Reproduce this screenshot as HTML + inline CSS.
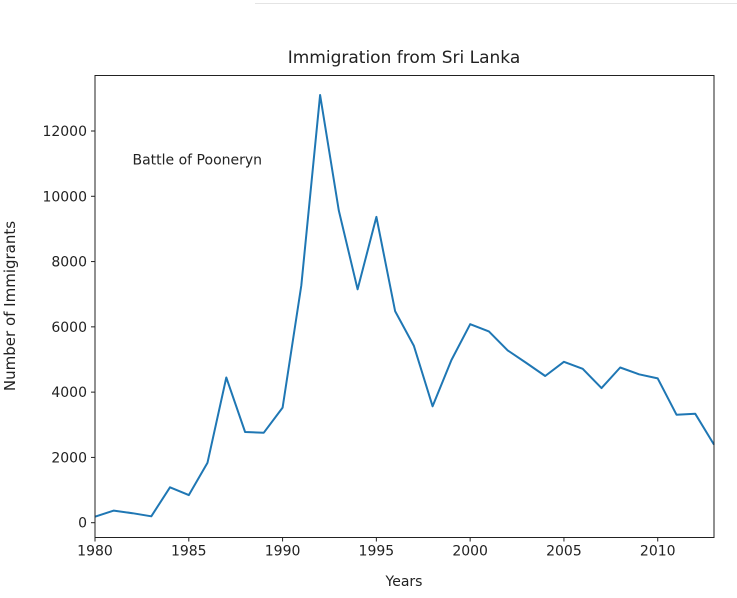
<!DOCTYPE html>
<html><head><meta charset="utf-8"><style>
body{margin:0;background:#fff;width:737px;height:593px;overflow:hidden}
svg text{font-family:"DejaVu Sans","Liberation Sans",sans-serif;fill:#222}
</style></head><body>
<svg width="737" height="593">
<line x1="255" y1="3.5" x2="737" y2="3.5" stroke="#e4e4e4"/>
<g id="g"></g>
</svg>
<script>
const years=[1980,1981,1982,1983,1984,1985,1986,1987,1988,1989,1990,1991,1992,1993,1994,1995,1996,1997,1998,1999,2000,2001,2002,2003,2004,2005,2006,2007,2008,2009,2010,2011,2012,2013];
const immigrants=[185,371,290,197,1086,845,1838,4447,2779,2758,3525,7266,13102,9563,7150,9368,6484,5415,3566,4982,6081,5861,5279,4892,4495,4930,4714,4123,4756,4547,4422,3309,3338,2394];
const xTicks=[1980,1985,1990,1995,2000,2005,2010];
const yTicks=[0,2000,4000,6000,8000,10000,12000];
const L=95,R=714,T=75.5,B=537.5;
const X=v=>L+(v-1980)/(2013-1980)*(R-L);
const Y=v=>522.7-v*(391.7/12000);
const g=document.getElementById('g');
const NS='http://www.w3.org/2000/svg';
function mk(t,a,txt){const e=document.createElementNS(NS,t);for(const k in a)e.setAttribute(k,a[k]);if(txt!=null)e.textContent=txt;g.appendChild(e);return e;}
let d=years.map((y,i)=>(i?'L':'M')+X(y).toFixed(1)+','+Y(immigrants[i]).toFixed(1)).join('');
const ln=mk('path',{d:d,fill:'none',stroke:'#1f77b4','stroke-width':2,'stroke-linejoin':'round'});


const fr=mk('rect',{x:L,y:T,width:R-L,height:B-T,fill:'none',stroke:'#222','stroke-width':1});


xTicks.forEach(v=>{const x=X(v);
 mk('line',{x1:x,y1:B,x2:x,y2:B+4,stroke:'#222'});
 const t=mk('text',{x:x,y:B+18,'text-anchor':'middle','font-size':14},v);
 
 
});
yTicks.forEach(v=>{const y=Y(v);
 mk('line',{x1:L-4,y1:y,x2:L,y2:y,stroke:'#222'});
 const t=mk('text',{x:L-8,y:y+5,'text-anchor':'end','font-size':14},v);
 
 
});
const ti=mk('text',{x:404,y:63,'text-anchor':'middle','font-size':17},'Immigration from Sri Lanka');


const xl=mk('text',{x:404,y:586,'text-anchor':'middle','font-size':14},'Years');


const yl=mk('text',{x:0,y:0,'text-anchor':'middle','font-size':15,transform:'translate(15,306) rotate(-90)'},'Number of Immigrants');


const an=mk('text',{x:X(1982),y:Y(11000)+1,'font-size':14},'Battle of Pooneryn');


</script>
</body></html>
